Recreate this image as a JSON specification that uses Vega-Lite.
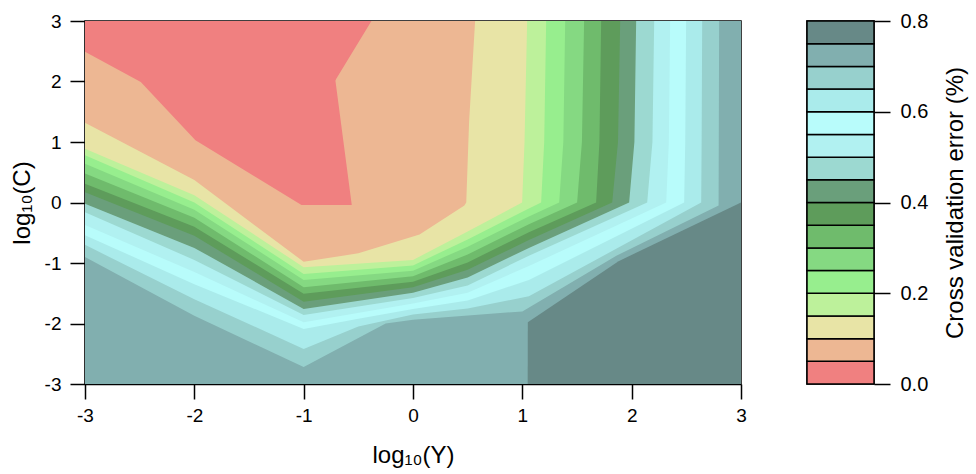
{
  "$schema": "https://vega.github.io/schema/vega-lite/v6.json",
  "padding": {"left": 9, "top": 10, "right": 0, "bottom": 0},
  "spacing": 66,
  "bounds": "flush",
  "config": {
    "font": "Liberation Sans",
    "view": {"stroke": "black", "strokeWidth": 1.5},
    "axis": {"domainColor": "black", "domainWidth": 1.5, "tickColor": "black", "tickWidth": 1.5, "labelColor": "black", "titleColor": "black", "labelFont": "Liberation Sans", "titleFont": "Liberation Sans", "labelFontSize": 19, "titleFontSize": 24, "titleFontWeight": "normal", "grid": false, "labelFlush": false}
  },
  "datasets": {
    "bands": [
      {"k":1,"x":-3,"y":3},{"k":1,"x":3,"y":3},
      {"k":2,"x":-3,"y":1.32},{"k":2,"x":-2,"y":0.37},{"k":2,"x":-1,"y":-0.98},{"k":2,"x":-0.5,"y":-0.84},{"k":2,"x":0.06,"y":-0.53},{"k":2,"x":0.47,"y":-0.05},{"k":2,"x":0.487,"y":0},{"k":2,"x":0.513,"y":1.33},{"k":2,"x":0.568,"y":3},{"k":2,"x":3,"y":3},
      {"k":3,"x":-3,"y":0.89},{"k":3,"x":-2,"y":0.12},{"k":3,"x":-1,"y":-1.07},{"k":3,"x":0,"y":-0.95},{"k":3,"x":0.5,"y":-0.48},{"k":3,"x":0.998,"y":0},{"k":3,"x":1.02,"y":1},{"k":3,"x":1.044,"y":3},{"k":3,"x":3,"y":3},
      {"k":4,"x":-3,"y":0.78},{"k":4,"x":-2,"y":0},{"k":4,"x":-1,"y":-1.18},{"k":4,"x":0,"y":-1.04},{"k":4,"x":0.5,"y":-0.61},{"k":4,"x":1.06,"y":-0.1},{"k":4,"x":1.172,"y":0},{"k":4,"x":1.2,"y":1},{"k":4,"x":1.218,"y":3},{"k":4,"x":3,"y":3},
      {"k":5,"x":-3,"y":0.64},{"k":5,"x":-2,"y":-0.12},{"k":5,"x":-1,"y":-1.28},{"k":5,"x":0,"y":-1.13},{"k":5,"x":0.5,"y":-0.73},{"k":5,"x":1.06,"y":-0.23},{"k":5,"x":1.337,"y":0},{"k":5,"x":1.375,"y":1},{"k":5,"x":1.392,"y":3},{"k":5,"x":3,"y":3},
      {"k":6,"x":-3,"y":0.48},{"k":6,"x":-2,"y":-0.25},{"k":6,"x":-1,"y":-1.4},{"k":6,"x":0,"y":-1.22},{"k":6,"x":0.5,"y":-0.86},{"k":6,"x":1.06,"y":-0.36},{"k":6,"x":1.501,"y":0},{"k":6,"x":1.545,"y":1},{"k":6,"x":1.565,"y":3},{"k":6,"x":3,"y":3},
      {"k":7,"x":-3,"y":0.31},{"k":7,"x":-2,"y":-0.4},{"k":7,"x":-1,"y":-1.51},{"k":7,"x":0,"y":-1.31},{"k":7,"x":0.5,"y":-0.99},{"k":7,"x":1.06,"y":-0.49},{"k":7,"x":1.675,"y":0},{"k":7,"x":1.705,"y":1},{"k":7,"x":1.721,"y":3},{"k":7,"x":3,"y":3},
      {"k":8,"x":-3,"y":0.17},{"k":8,"x":-2,"y":-0.55},{"k":8,"x":-1,"y":-1.64},{"k":8,"x":0,"y":-1.4},{"k":8,"x":0.5,"y":-1.11},{"k":8,"x":1.06,"y":-0.62},{"k":8,"x":1.822,"y":0},{"k":8,"x":1.875,"y":1},{"k":8,"x":1.895,"y":3},{"k":8,"x":3,"y":3},
      {"k":9,"x":-3,"y":-0.02},{"k":9,"x":-2,"y":-0.75},{"k":9,"x":-1,"y":-1.76},{"k":9,"x":0,"y":-1.49},{"k":9,"x":0.5,"y":-1.24},{"k":9,"x":1.06,"y":-0.75},{"k":9,"x":1.977,"y":0},{"k":9,"x":2.025,"y":1},{"k":9,"x":2.041,"y":3},{"k":9,"x":3,"y":3},
      {"k":10,"x":-3,"y":-0.16},{"k":10,"x":-2,"y":-0.95},{"k":10,"x":-1,"y":-1.86},{"k":10,"x":0,"y":-1.58},{"k":10,"x":0.5,"y":-1.37},{"k":10,"x":1.06,"y":-0.88},{"k":10,"x":2.142,"y":0},{"k":10,"x":2.19,"y":1},{"k":10,"x":2.206,"y":3},{"k":10,"x":3,"y":3},
      {"k":11,"x":-3,"y":-0.37},{"k":11,"x":-2,"y":-1.15},{"k":11,"x":-1,"y":-1.98},{"k":11,"x":0,"y":-1.67},{"k":11,"x":0.5,"y":-1.49},{"k":11,"x":1.06,"y":-1.05},{"k":11,"x":2.316,"y":0},{"k":11,"x":2.34,"y":1},{"k":11,"x":2.352,"y":3},{"k":11,"x":3,"y":3},
      {"k":12,"x":-3,"y":-0.54},{"k":12,"x":-2,"y":-1.35},{"k":12,"x":-1,"y":-2.09},{"k":12,"x":-0.5,"y":-1.92},{"k":12,"x":0,"y":-1.76},{"k":12,"x":0.5,"y":-1.62},{"k":12,"x":1.06,"y":-1.28},{"k":12,"x":2.48,"y":0},{"k":12,"x":2.49,"y":1},{"k":12,"x":2.498,"y":3},{"k":12,"x":3,"y":3},
      {"k":13,"x":-3,"y":-0.7},{"k":13,"x":-2,"y":-1.6},{"k":13,"x":-1,"y":-2.42},{"k":13,"x":-0.5,"y":-2.05},{"k":13,"x":0,"y":-1.85},{"k":13,"x":0.5,"y":-1.75},{"k":13,"x":1.06,"y":-1.55},{"k":13,"x":2.636,"y":0},{"k":13,"x":2.64,"y":1},{"k":13,"x":2.645,"y":3},{"k":13,"x":3,"y":3},
      {"k":14,"x":-3,"y":-0.9},{"k":14,"x":-2,"y":-1.87},{"k":14,"x":-1,"y":-2.72},{"k":14,"x":-0.25,"y":-2},{"k":14,"x":0,"y":-1.94},{"k":14,"x":1,"y":-1.8},{"k":14,"x":1.86,"y":-0.88},{"k":14,"x":2.795,"y":-0.05},{"k":14,"x":2.8,"y":3},{"k":14,"x":3,"y":3},
      {"k":15,"x":1.049,"y":-3},{"k":15,"x":1.05,"y":-1.98},{"k":15,"x":1.88,"y":-0.97},{"k":15,"x":3,"y":0}
    ],
    "red": [
      {"k":0,"part":"a","x":-3,"lo":2.49,"hi":3},
      {"k":0,"part":"a","x":-2.49,"lo":1.99,"hi":3},
      {"k":0,"part":"a","x":-1.99,"lo":1.03,"hi":3},
      {"k":0,"part":"a","x":-1.02,"lo":-0.04,"hi":3},
      {"k":0,"part":"a","x":-0.711,"lo":-0.04,"hi":3},
      {"k":0,"part":"a","x":-0.71,"lo":-0.04,"hi":2.02},
      {"k":0,"part":"a","x":-0.56,"lo":-0.04,"hi":-0.04},
      {"k":0,"part":"b","x":-0.716,"lo":2.0,"hi":3},
      {"k":0,"part":"b","x":-0.71,"lo":2.02,"hi":3},
      {"k":0,"part":"b","x":-0.38,"lo":3,"hi":3}
    ],
    "bar": [
      {"k":0,"lo":0,"hi":0.05},{"k":1,"lo":0.05,"hi":0.1},{"k":2,"lo":0.1,"hi":0.15},{"k":3,"lo":0.15,"hi":0.2},
      {"k":4,"lo":0.2,"hi":0.25},{"k":5,"lo":0.25,"hi":0.3},{"k":6,"lo":0.3,"hi":0.35},{"k":7,"lo":0.35,"hi":0.4},
      {"k":8,"lo":0.4,"hi":0.45},{"k":9,"lo":0.45,"hi":0.5},{"k":10,"lo":0.5,"hi":0.55},{"k":11,"lo":0.55,"hi":0.6},
      {"k":12,"lo":0.6,"hi":0.65},{"k":13,"lo":0.65,"hi":0.7},{"k":14,"lo":0.7,"hi":0.75},{"k":15,"lo":0.75,"hi":0.8}
    ]
  },
  "hconcat": [
    {
      "width": 656,
      "height": 363,
      "layer": [
        {
          "data": {"name": "bands"},
          "mark": {"type": "area", "clip": true, "orient": "vertical"},
          "encoding": {
            "x": {"field": "x", "type": "quantitative", "scale": {"domain": [-3, 3], "nice": false, "zero": false},
                  "axis": {"values": [-3, -2, -1, 0, 1, 2, 3], "labelExpr": "'' + datum.value", "tickSize": 15, "labelPadding": 7, "title": "log₁₀(Y)", "titlePadding": 18}},
            "y": {"field": "y", "type": "quantitative", "stack": null, "scale": {"domain": [-3, 3], "nice": false, "zero": false},
                  "axis": {"values": [-3, -2, -1, 0, 1, 2, 3], "labelExpr": "'' + datum.value", "tickSize": 15, "labelPadding": 9, "title": "log₁₀(C)", "titlePadding": 10}},
            "y2": {"datum": -3},
            "color": {"field": "k", "type": "ordinal", "legend": null,
                      "scale": {"domain": [0,1,2,3,4,5,6,7,8,9,10,11,12,13,14,15],
                                "range": ["#F08080","#EDB793","#E8E4A6","#BDF19B","#97EE8E","#85D982","#6FBB6C","#5E9C5B","#6A9F7B","#9CD9D1","#B1F1F1","#B8FCFB","#AAEBEB","#97D0CD","#81AFAF","#678987"]}}
          }
        },
        {
          "data": {"name": "red"},
          "mark": {"type": "area", "clip": true, "orient": "vertical"},
          "encoding": {
            "x": {"field": "x", "type": "quantitative"},
            "y": {"field": "lo", "type": "quantitative", "stack": null},
            "y2": {"field": "hi"},
            "detail": {"field": "part"},
            "color": {"field": "k", "type": "ordinal", "legend": null}
          }
        }
      ]
    },
    {
      "width": 67,
      "height": 363,
      "data": {"name": "bar"},
      "mark": {"type": "rect", "stroke": "black", "strokeWidth": 1.5},
      "encoding": {
        "y": {"field": "lo", "type": "quantitative", "scale": {"domain": [0, 0.8], "nice": false, "zero": false},
              "axis": {"orient": "right", "values": [0, 0.2, 0.4, 0.6, 0.8], "format": ".1f", "domain": false, "tickSize": 16, "labelPadding": 10, "labelFontSize": 20,
                       "title": "Cross validation error (%)", "titleAngle": 270, "titleBaseline": "top", "titlePadding": 16}},
        "y2": {"field": "hi"},
        "color": {"field": "k", "type": "ordinal", "legend": null,
                  "scale": {"domain": [0,1,2,3,4,5,6,7,8,9,10,11,12,13,14,15],
                            "range": ["#F08080","#EDB793","#E8E4A6","#BDF19B","#97EE8E","#85D982","#6FBB6C","#5E9C5B","#6A9F7B","#9CD9D1","#B1F1F1","#B8FCFB","#AAEBEB","#97D0CD","#81AFAF","#678987"]}}
      }
    }
  ]
}
